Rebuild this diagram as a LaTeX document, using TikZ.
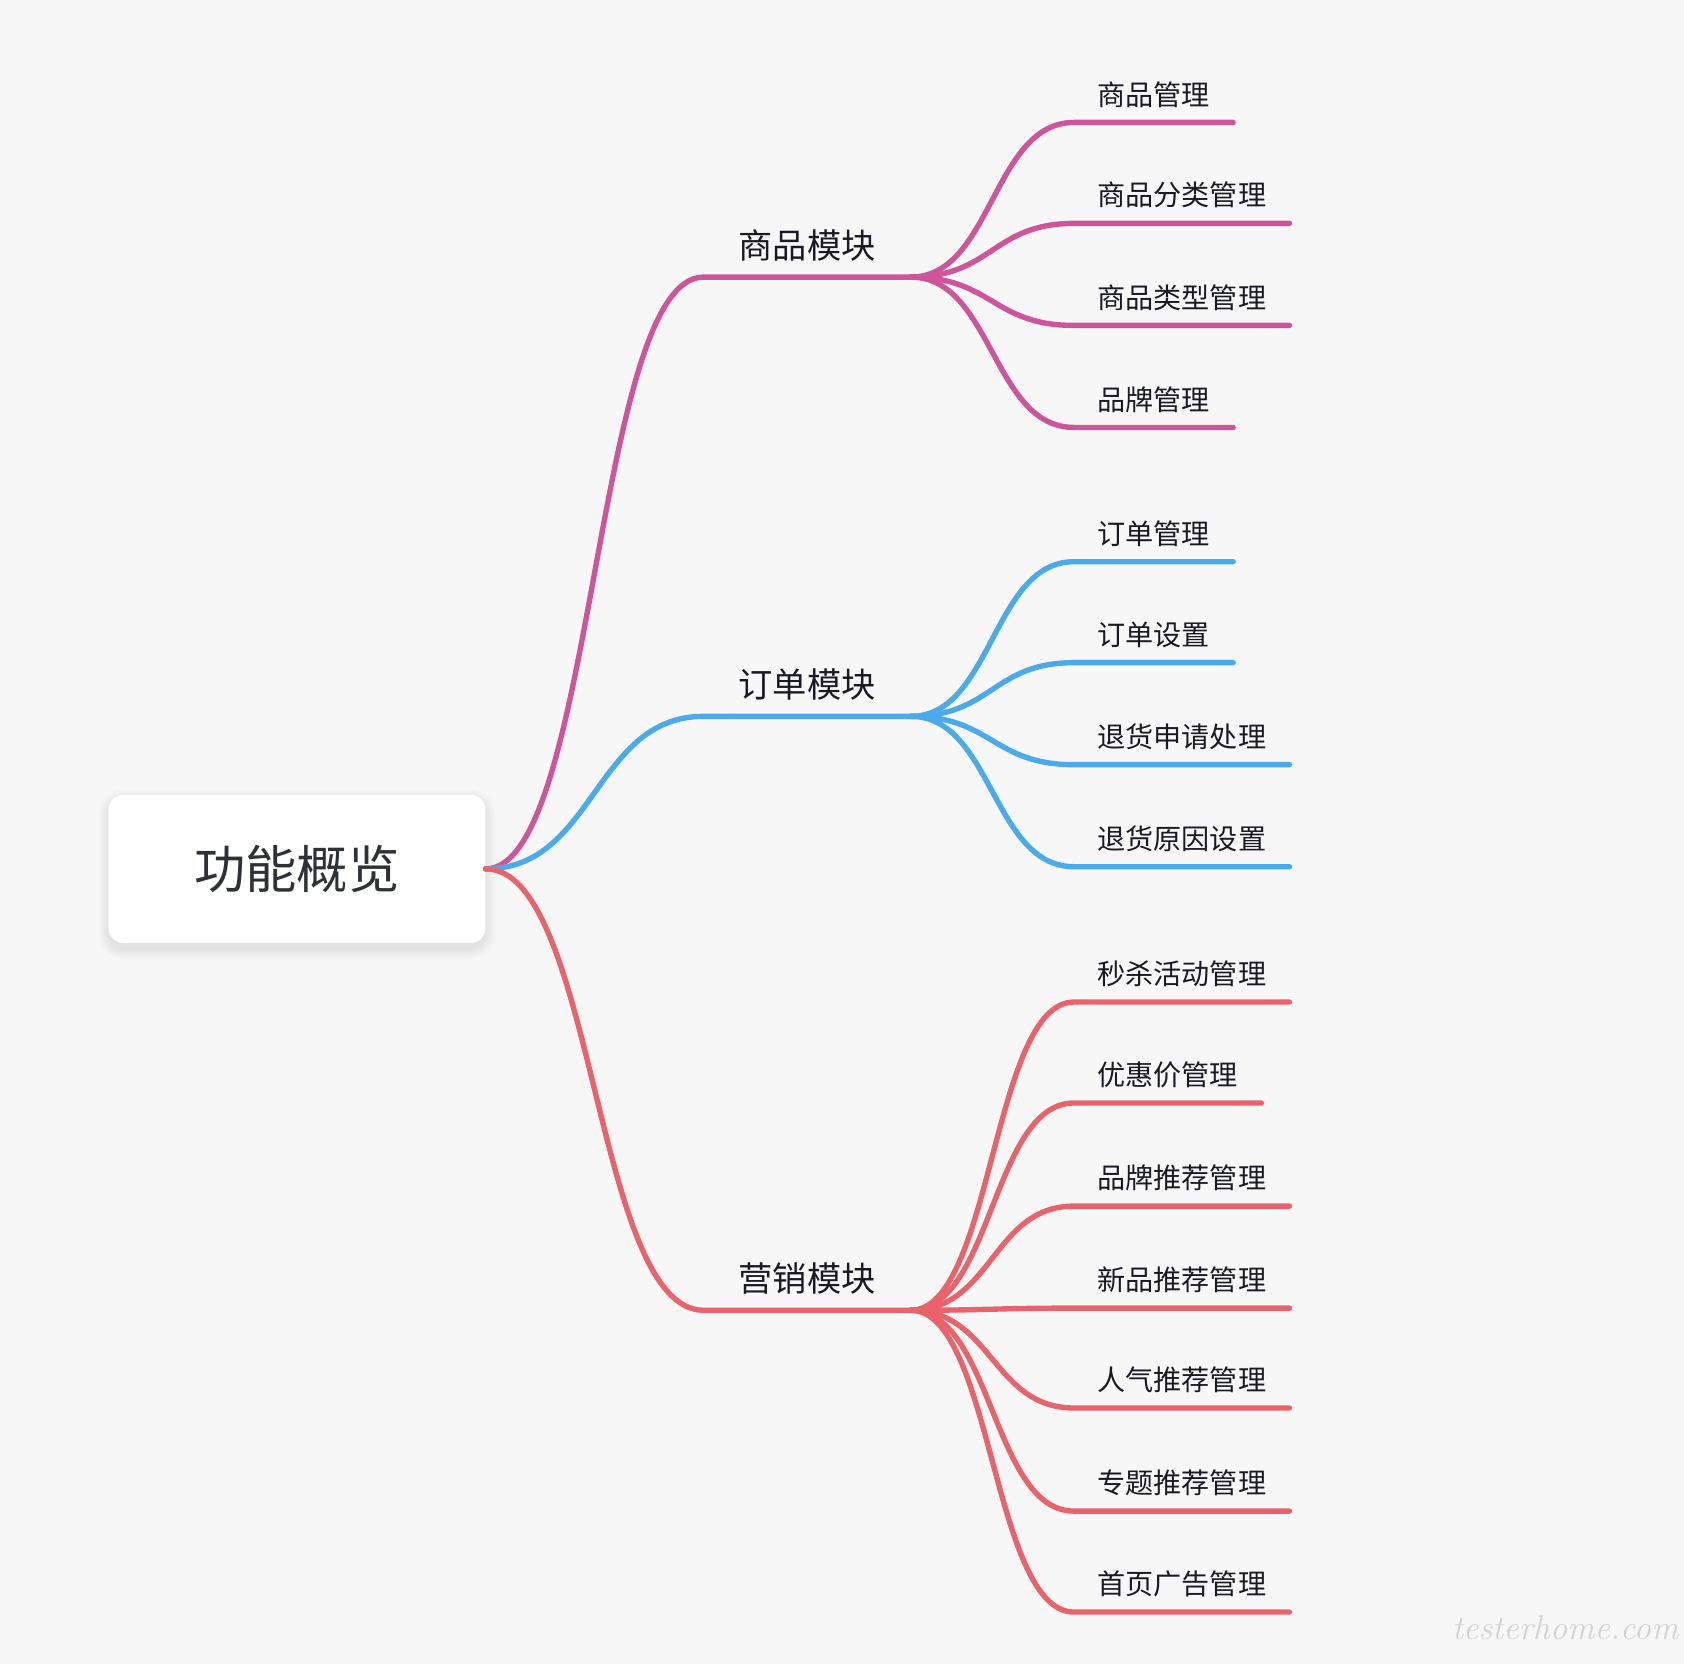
\documentclass[tikz,border=0pt]{standalone}
\usepackage{fontspec}
\newfontfamily\cjk{Noto Sans CJK SC}
\usetikzlibrary{calc}
\definecolor{bgc}{HTML}{F7F7F7}
\definecolor{pk}{HTML}{CF559A}
\definecolor{bl}{HTML}{4BAAE9}
\definecolor{rd}{HTML}{E9636B}
\definecolor{txt}{HTML}{1A1A24}
\definecolor{roottxt}{HTML}{2E3136}
\definecolor{wm}{HTML}{D2D2D2}
\tikzset{
  lnk/.style={line width=5bp, line cap=round, line join=round},
  rootbox/.style={draw=none, fill=white, rounded corners=14bp, minimum width=351bp, minimum height=138bp,
    font=\cjk\fontsize{48}{48}\selectfont, text=roottxt},
  softshadow/.style={fill=black, opacity=0.009, rounded corners=#1},
  module/.style={anchor=south west, inner xsep=32.5bp, inner ysep=17bp, text depth=0pt,
    font=\cjk\fontsize{32}{32}\selectfont, text=txt},
  leaf/.style={anchor=south west, inner xsep=21.5bp, inner ysep=16bp, text depth=0pt,
    font=\cjk\fontsize{26.3}{26.3}\selectfont, text=txt},
  watermark/.style={anchor=base east, inner sep=0pt, font=\itshape\fontsize{32}{32}\selectfont, text=wm},
}
\newcommand{\mmlink}[4]{\draw[#1] let \p1=(#2), \p2=(#3) in (\p1) .. controls ({(\x1+\x2)/2},\y1) and ({(\x1+\x2)/2},\y2) .. (\p2) -- (#4);}
\begin{document}
\begin{tikzpicture}[x=1bp,y=-1bp]
\fill[bgc] (0,0) rectangle (1568,1549.4);
\useasboundingbox (0,0) rectangle (1568,1549.4);

% soft shadow of the root box
\foreach \s in {1,2,...,10}{
  \fill[softshadow=14bp+\s bp] (101-\s,740-\s+5) rectangle (452+\s,878+\s+5);
}
\node[rootbox] (r) at (276.5,809) {功能概览};

\node[module] (m1) at (655,258) {商品模块};
\node[module] (m2) at (655,667) {订单模块};
\node[module] (m3) at (655,1220) {营销模块};

\node[leaf] (a1) at (1000,114) {商品管理};
\node[leaf] (a2) at (1000,208) {商品分类管理};
\node[leaf] (a3) at (1000,303) {商品类型管理};
\node[leaf] (a4) at (1000,398) {品牌管理};

\node[leaf] (b1) at (1000,523) {订单管理};
\node[leaf] (b2) at (1000,617) {订单设置};
\node[leaf] (b3) at (1000,712) {退货申请处理};
\node[leaf] (b4) at (1000,807) {退货原因设置};

\node[leaf] (c1) at (1000,933) {秒杀活动管理};
\node[leaf] (c2) at (1000,1027) {优惠价管理};
\node[leaf] (c3) at (1000,1123) {品牌推荐管理};
\node[leaf] (c4) at (1000,1218) {新品推荐管理};
\node[leaf] (c5) at (1000,1311) {人气推荐管理};
\node[leaf] (c6) at (1000,1407) {专题推荐管理};
\node[leaf] (c7) at (1000,1501) {首页广告管理};

\mmlink{lnk,pk}{r.east}{m1.south west}{m1.south east}
\mmlink{lnk,bl}{r.east}{m2.south west}{m2.south east}
\mmlink{lnk,rd}{r.east}{m3.south west}{m3.south east}

\foreach \k in {a1,a2,a3,a4}{\mmlink{lnk,pk}{m1.south east}{\k.south west}{\k.south east}}
\foreach \k in {b1,b2,b3,b4}{\mmlink{lnk,bl}{m2.south east}{\k.south west}{\k.south east}}
\foreach \k in {c1,c2,c3,c4,c5,c6,c7}{\mmlink{lnk,rd}{m3.south east}{\k.south west}{\k.south east}}

\node[watermark] (wmk) at (1563,1527) {testerhome.com};
\end{tikzpicture}
\end{document}
